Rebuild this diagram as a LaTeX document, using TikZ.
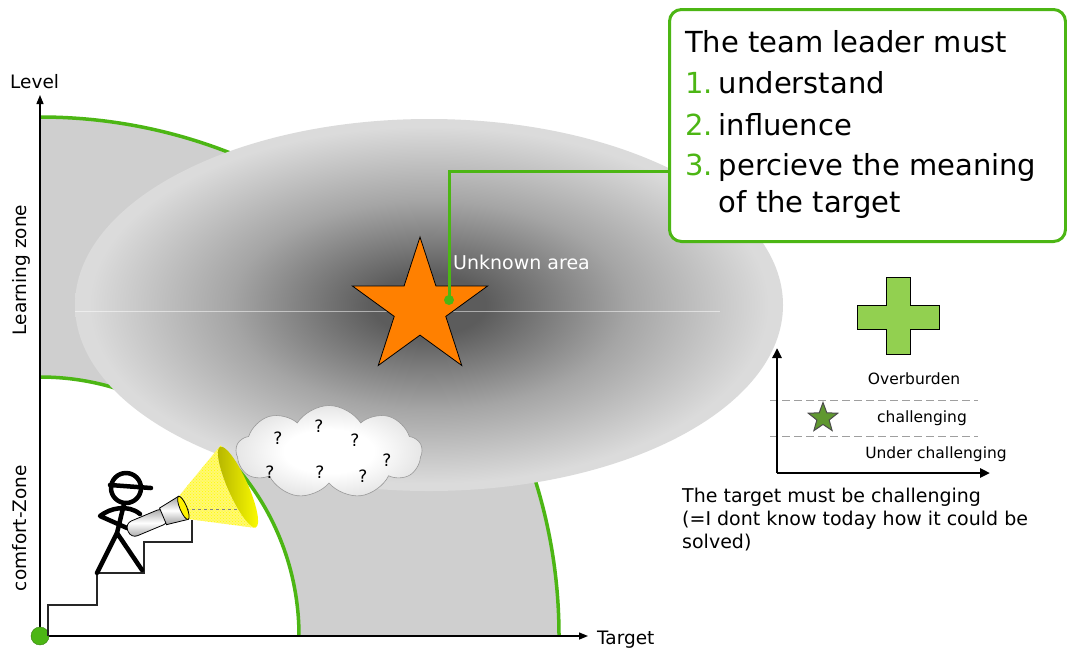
\documentclass[tikz,border=0pt]{standalone}
\usepackage{fontspec}
\setmainfont{DejaVu Sans}
\usepackage{xcolor}
\usetikzlibrary{shapes.geometric, shapes.symbols, arrows.meta, patterns}

\definecolor{leafgreen}{RGB}{76,182,20}
\definecolor{bandgray}{RGB}{207,207,207}
\definecolor{hazedark}{RGB}{92,92,92}
\definecolor{hazemid}{RGB}{165,165,165}
\definecolor{hazelight}{RGB}{219,219,219}
\definecolor{starorange}{RGB}{255,128,0}
\definecolor{plusgreen}{RGB}{146,208,80}
\definecolor{mossgreen}{RGB}{96,152,48}
\definecolor{puffrim}{RGB}{150,150,150}
\definecolor{puffmid}{RGB}{228,228,228}

\pgfdeclareradialshading{haze}{\pgfpoint{0bp}{0bp}}{color(0bp)=(hazedark); color(4bp)=(hazedark); color(14bp)=(hazemid); color(24bp)=(hazelight); color(50bp)=(hazelight)}
\pgfdeclareradialshading{puff}{\pgfpoint{0bp}{0bp}}{color(0bp)=(white); color(12bp)=(white); color(26bp)=(puffmid); color(32bp)=(puffrim); color(50bp)=(puffrim)}

\begin{document}
\begin{tikzpicture}[x=1pt, y=-1pt, font=\fontsize{18.5}{22}\selectfont, lbl/.style={inner sep=0pt}, zone/.style={leafgreen, line width=3.5pt}, link/.style={leafgreen, line width=3pt}, axis/.style={line width=1.3pt, -{Triangle[length=9pt,width=7pt]}}, miniaxis/.style={line width=2.5pt, -{Triangle[length=10pt,width=9pt]}}, level line/.style={gray!75, line width=1pt, dash pattern=on 8pt off 4pt}, qmark/.style={lbl, font=\fontsize{17}{20}\selectfont}, chartlabel/.style={lbl, anchor=base, font=\fontsize{15.5}{18}\selectfont}, stick/.style={line width=4.5pt, line cap=round, line join=round}]
\fill[white] (0,0) rectangle (1067,649);
\useasboundingbox (0,0) rectangle (1067,649);
\coordinate (origin) at (40,636);

% learning zone between the two arcs
\fill[bandgray] (40,117) arc[start angle=-90, end angle=0, radius=519] -- (299,636) arc[start angle=0, end angle=-90, radius=259] -- cycle;
\draw[zone] (40,117) arc[start angle=-90, end angle=0, radius=519];
\draw[zone] (40,377) arc[start angle=-90, end angle=0, radius=259];

% unknown area
\shade[shading=haze] (429,305) ellipse [x radius=354, y radius=186];
\draw[white, opacity=.5, line width=.6pt] (75,311) -- (720,311);
\node[star, star points=5, star point ratio=2.618, minimum size=142pt, inner sep=0pt, fill=starorange, draw=black, line width=.8pt] (goal) at (420,308) {};
\node[circle, fill=leafgreen, inner sep=0pt, minimum size=10pt] (pin) at (449,300) {};
\node[lbl, anchor=base west, white, font=\fontsize{19}{22}\selectfont] (unknown) at (453,269) {Unknown area};

% what the leader has to do
\node[draw=leafgreen, line width=3pt, rounded corners=12pt, fill=white, minimum width=396pt, minimum height=232pt, anchor=north west] (leaderbox) at (668,8) {};
\coordinate (elbow) at (449,171);
\draw[link] (pin.center) -- (elbow) -- (elbow -| leaderbox.west);
\node[lbl, anchor=base west, font=\fontsize{29}{36}\selectfont] (duties) at (685,52) {\begin{tabular}[t]{@{}l@{\hspace{6pt}}l@{}}
\multicolumn{2}{@{}l@{}}{The team leader must}\\[5pt]
\textcolor{leafgreen}{1.} & understand\\[6pt]
\textcolor{leafgreen}{2.} & influence\\[4pt]
\textcolor{leafgreen}{3.} & percieve the meaning\\[1pt]
 & of the target
\end{tabular}};

% small chart
\draw[fill=plusgreen, line width=1pt] (886,277) -- (910,277) -- (910,305) -- (939,305) -- (939,329) -- (910,329) -- (910,354) -- (886,354) -- (886,329) -- (857,329) -- (857,305) -- (886,305) -- cycle;
\coordinate (chart) at (777,473);
\draw[level line] (770,400) -- (978,400);
\draw[level line] (770,436) -- (978,436);
\draw[miniaxis] (chart) -- (777,348);
\draw[miniaxis] (chart) -- (990,473);
\node[star, star points=5, star point ratio=2.4, minimum size=31pt, inner sep=0pt, fill=mossgreen, draw=black!70, line width=1pt] (mark) at (823,418) {};
\node[chartlabel] (over) at (914,384) {Overburden};
\node[chartlabel] (challenging) at (922,422) {challenging};
\node[chartlabel] (under) at (936,458) {Under challenging};
\node[lbl, anchor=base west, font=\fontsize{19}{23}\selectfont] (challenge) at (682,502) {\begin{tabular}[t]{@{}l@{}}The target must be challenging\\(=I dont know today how it could be\\solved)\end{tabular}};

% axes
\draw[axis] (origin) -- (40,95);
\draw[axis] (origin) -- (588,636);
\node[circle, fill=leafgreen, draw=leafgreen!70!black, minimum size=18pt, inner sep=0pt] (start) at (origin) {};
\node[lbl, anchor=base west] (level) at (10,88) {Level};
\node[lbl, anchor=base west] (target) at (597,644) {Target};
\node[lbl, rotate=90, anchor=base] (learning) at (26,270) {Learning zone};
\node[lbl, rotate=90, anchor=base] (comfort) at (26,528) {comfort-Zone};

% cloud of questions
\node[cloud, cloud puffs=9, cloud puff arc=115, aspect=2, minimum width=186pt, minimum height=93pt, inner sep=0pt, shade, shading=puff, draw=gray!80, line width=.6pt] (doubt) at (329,452) {};
\foreach \qx/\qy [count=\i] in {278/438, 319/426, 355/440, 387/460, 270/472, 320/472, 363/476}
  \node[qmark] (q\i) at (\qx,\qy) {?};

% stairs
\draw[line width=1.2pt, black!85] (48,636) |- (97,605) |- (144,573) |- (192,542) -- (192,520);

% light beam
\path[fill=yellow!55, postaction={pattern=crosshatch dots, pattern color=yellow}] (179,496) -- (221,445) -- (256,528) -- (188,519) -- cycle;
\draw[dashed, gray, line width=.6pt] (186,509) -- (237,509);
\shade[left color=yellow!70!black, right color=yellow, rotate around={24:(238,487)}] (238,487) ellipse [x radius=10, y radius=44];

% stick man
\draw[stick] (126,488) circle[radius=15];
\draw[stick] (110,485) -- (151,488);
\draw[stick] (124,504) -- (117,533);
\draw[stick] (97,573) -- (117,533) -- (142,570);
\draw[stick] (140,514) .. controls (128,504) and (110,508) .. (100,516) -- (127,528);

% flashlight
\begin{scope}[shift={(128,531)}, rotate=22.7]
  \shade[top color=gray!75, bottom color=gray!75, middle color=white, draw=black, line width=.8pt, rounded corners=7pt] (0,-8) rectangle (42,8);
  \shade[top color=gray!75, bottom color=gray!75, middle color=white, draw=black, line width=.8pt] (38,-9) -- (60,-12.5) -- (60,12.5) -- (38,9) -- cycle;
  \draw[fill=yellow, line width=.8pt] (60,0) ellipse [x radius=3.5, y radius=12.5];
\end{scope}
\end{tikzpicture}
\end{document}
